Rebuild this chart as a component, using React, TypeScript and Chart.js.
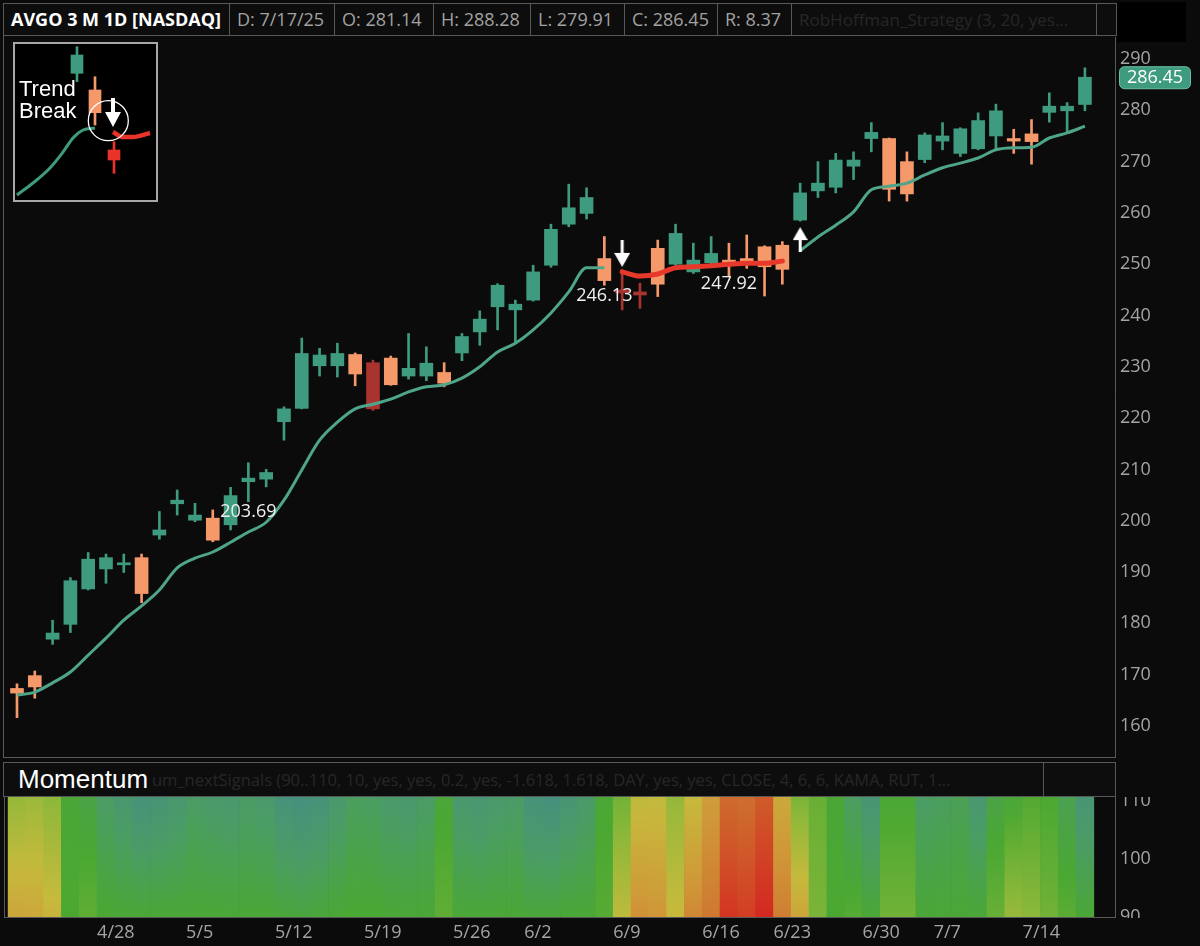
import React, { useEffect, useRef } from 'react';
import { Chart, registerables } from 'chart.js';

Chart.register(...registerables);
Chart.defaults.font.family = '"Open Sans", "DejaVu Sans", sans-serif';

// ---------------- data (AVGO daily, 4/21/25 – 7/17/25) ----------------
const opens = [167.3, 169.8, 176.9, 179.8, 186.7, 190.6, 191.4, 192.8, 197.2, 203.3, 200.1, 200.5, 199.2, 207.6, 208.1, 219.3, 221.9, 230.2, 230.2, 232.4, 230.8, 231.7, 228.2, 228.2, 228.9, 232.7, 236.8, 241.7, 241.1, 243.0, 249.8, 257.8, 259.9, 251.1, 245.0, 244.6, 253.1, 250.0, 248.5, 250.3, 250.8, 251.1, 253.4, 253.7, 258.6, 264.3, 265.0, 269.1, 274.5, 274.5, 270.0, 270.4, 274.0, 271.6, 272.5, 275.0, 274.5, 275.4, 279.6, 279.9, 281.14];
const highs = [168.2, 170.7, 180.6, 188.9, 193.8, 193.5, 193.5, 193.5, 201.8, 206.0, 203.4, 202.1, 206.5, 211.3, 210.0, 222.2, 235.6, 233.6, 234.6, 232.7, 231.3, 232.1, 236.5, 233.9, 230.8, 236.5, 240.9, 246.2, 243.0, 249.8, 257.8, 265.6, 264.9, 255.4, 248.9, 246.3, 254.7, 257.8, 254.1, 255.4, 254.1, 255.7, 253.6, 254.4, 265.8, 270.0, 271.6, 271.9, 277.6, 274.6, 271.9, 275.6, 277.6, 276.6, 279.5, 281.2, 276.3, 278.2, 283.4, 281.5, 288.28];
const lows = [161.6, 165.4, 175.9, 178.2, 186.5, 187.8, 189.9, 184.0, 196.4, 201.1, 199.8, 195.9, 198.2, 203.7, 206.6, 215.7, 221.8, 228.2, 228.0, 226.3, 221.5, 226.4, 227.6, 227.3, 226.1, 231.2, 234.2, 237.2, 234.9, 242.8, 249.4, 257.3, 258.8, 245.9, 241.1, 241.4, 243.7, 249.8, 248.2, 250.1, 247.7, 249.2, 243.8, 246.1, 258.4, 263.0, 263.9, 266.5, 271.9, 262.3, 262.3, 269.8, 272.3, 271.0, 272.3, 272.3, 271.6, 269.5, 277.7, 275.6, 279.91];
const closes = [166.4, 167.6, 178.1, 188.3, 192.5, 192.8, 191.8, 185.8, 198.2, 204.0, 201.1, 196.2, 204.9, 208.3, 209.4, 221.8, 232.6, 232.3, 232.6, 228.6, 221.8, 226.5, 229.7, 230.7, 226.8, 235.9, 239.3, 245.9, 242.2, 248.5, 256.8, 261.0, 263.0, 246.8, 244.4, 244.0, 246.1, 256.0, 250.8, 252.1, 250.2, 250.5, 249.5, 249.0, 263.9, 265.8, 270.3, 270.3, 275.7, 264.6, 263.7, 275.2, 275.0, 276.4, 278.0, 279.9, 274.0, 273.9, 280.8, 280.8, 286.45];
// bars flagged by the strategy (drawn dark red)
const retraceBars = [20, 34, 35];

// trend line (green) and trend-break line (red)
const trendLine = [166.0, 166.6, 168.4, 170.5, 173.8, 177.1, 180.6, 183.4, 186.5, 190.8, 192.7, 193.9, 195.8, 197.8, 199.7, 204.0, 209.9, 215.7, 219.2, 221.8, 222.7, 223.7, 225.1, 226.1, 226.5, 227.8, 230.0, 232.9, 234.6, 237.2, 240.5, 244.6, 249.3, 249.3, null, null, null, null, null, null, null, null, null, null, 252.6, 255.3, 257.6, 260.2, 264.5, 265.2, 265.8, 267.4, 268.8, 269.7, 270.7, 272.3, 272.7, 272.8, 274.6, 275.6, 276.9];
const breakLine = [null, null, null, null, null, null, null, null, null, null, null, null, null, null, null, null, null, null, null, null, null, null, null, null, null, null, null, null, null, null, null, null, null, null, 248.5, 247.7, 248.1, 249.3, 249.5, 249.7, 250.0, 250.2, 250.2, 250.6, null, null, null, null, null, null, null, null, null, null, null, null, null, null, null, null, null];

const downSignalIdx = [34];
const downSignalVal = [252.1];
const upSignalIdx = [44];
const upSignalVal = [254.8];

const noteIdx = [13, 33, 40];
const noteVal = [201.7, 243.8, 246.1];
const noteText = ['203.69', '246.13', '247.92'];

const priceTicks = [160, 170, 180, 190, 200, 210, 220, 230, 240, 250, 260, 270, 280, 290];
const dateTickIdx = [5, 10, 15, 20, 25, 29, 34, 39, 43, 48, 52, 57];
const dateTickLabels = ['4/28', '5/5', '5/12', '5/19', '5/26', '6/2', '6/9', '6/16', '6/23', '6/30', '7/7', '7/14'];

// momentum heat (0 = weakest / red ... 1 = strongest / teal), upper and lower edge of each column
const momTop = [0.58, 0.56, 0.60, 0.76, 0.80, 0.88, 0.93, 0.98, 0.96, 0.93, 0.88, 0.90, 0.92, 0.89, 0.91, 0.98, 1.00, 0.98, 0.92, 0.86, 0.87, 0.90, 0.92, 0.88, 0.77, 0.92, 0.94, 0.91, 0.89, 0.98, 1.00, 0.95, 0.90, 0.76, 0.66, 0.47, 0.46, 0.58, 0.45, 0.33, 0.16, 0.17, 0.12, 0.38, 0.64, 0.68, 0.76, 0.87, 0.95, 0.76, 0.76, 0.88, 0.86, 0.84, 0.93, 0.80, 0.77, 0.73, 0.75, 0.83, 0.95];
const momBottom = [0.36, 0.37, 0.42, 0.75, 0.70, 0.75, 0.76, 0.76, 0.76, 0.76, 0.76, 0.76, 0.76, 0.76, 0.76, 0.77, 0.78, 0.77, 0.76, 0.75, 0.75, 0.76, 0.76, 0.76, 0.70, 0.76, 0.76, 0.76, 0.76, 0.77, 0.77, 0.76, 0.76, 0.72, 0.47, 0.28, 0.30, 0.44, 0.25, 0.20, 0.03, 0.05, 0.00, 0.22, 0.36, 0.64, 0.75, 0.72, 0.76, 0.66, 0.66, 0.76, 0.76, 0.76, 0.76, 0.68, 0.57, 0.60, 0.66, 0.71, 0.76];
const momTicks = [90, 100, 110];

// inset "Trend Break" legend sketch (local units)
const insetX = [64, 82, 101];
const insetOpen = [128.7, 112, 52];
const insetClose = [147, 89.3, 42];
const insetHigh = [155.3, 125.3, 60.3];
const insetLow = [120.3, 77, 28.7];
const insetTrendX = [4, 20, 37, 50, 60, 70, 82];
const insetTrendY = [7, 19, 34, 50, 64, 72, 74];
const insetBreakX = [100, 110, 120, 137];
const insetBreakY = [70, 65, 65, 69];

// ---------------- styles ----------------
const BG = '#0b0b0b';
const LINE = '#585858';
const AXIS_TEXT = '#a4a4a4';
const DIM_TEXT = '#272727';
const UP = '#3f9b7f';
const DOWN = '#f6996a';
const RETRACE = '#a8332f';
const TREND = '#4fa589';
const BREAK = '#e6392b';
const INSET_RED = '#e8332a';

const X_MIN = -0.674;
const X_MAX = 61.69;
const Y_MIN = 153.94;
const Y_MAX = 294.29;
const MOM_MIN = 90;
const MOM_MAX = 110.7;

const PALETTE: [number, number[]][] = [
  [0.0, [212, 40, 32]],
  [0.15, [206, 104, 44]],
  [0.3, [208, 150, 56]],
  [0.45, [198, 186, 60]],
  [0.6, [140, 184, 58]],
  [0.75, [74, 168, 50]],
  [0.88, [74, 156, 102]],
  [1.0, [70, 144, 126]],
];
function heatColor(m: number) {
  const v = Math.max(0, Math.min(1, m));
  for (let k = 1; k < PALETTE.length; k++) {
    const [p1, c1] = PALETTE[k];
    const [p0, c0] = PALETTE[k - 1];
    if (v <= p1) {
      const t = (v - p0) / (p1 - p0);
      const c = c0.map((a, j) => Math.round(a + (c1[j] - a) * t));
      return `rgb(${c[0]},${c[1]},${c[2]})`;
    }
  }
  const c = PALETTE[PALETTE.length - 1][1];
  return `rgb(${c[0]},${c[1]},${c[2]})`;
}

function makeArrow(up: boolean, w: number, h: number, head: number, shaft: number) {
  const c = document.createElement('canvas');
  c.width = w;
  c.height = h;
  const g = c.getContext('2d')!;
  g.fillStyle = '#ffffff';
  if (up) {
    g.translate(0, h);
    g.scale(1, -1);
  }
  g.fillRect((w - shaft) / 2, 0, shaft, h - head + 1);
  g.beginPath();
  g.moveTo(0, h - head);
  g.lineTo(w, h - head);
  g.lineTo(w / 2, h);
  g.closePath();
  g.fill();
  return c;
}

const zeroPad = (s: any) => {
  s.paddingLeft = 0;
  s.paddingRight = 0;
  s.paddingTop = 0;
  s.paddingBottom = 0;
};

const candleColor = (i: number) =>
  closes[i] >= opens[i] ? UP : retraceBars.includes(i) ? RETRACE : DOWN;

export default function App() {
  const mainRef = useRef<HTMLCanvasElement>(null);
  const momRef = useRef<HTMLCanvasElement>(null);
  const insetRef = useRef<HTMLCanvasElement>(null);

  useEffect(() => {
    document.body.style.margin = '0';
    document.body.style.background = BG;
    const idx = closes.map((_, i) => i);

    const mainOverlay = {
      id: 'mainOverlay',
      afterDatasetsDraw(chart: any) {
        const { ctx, scales } = chart;
        const x = scales.x;
        const y = scales.y;
        ctx.save();
        ctx.font = '18px "Open Sans"';
        ctx.fillStyle = '#f0f0f0';
        ctx.textAlign = 'center';
        ctx.textBaseline = 'middle';
        noteText.forEach((t, k) => {
          ctx.fillText(t, x.getPixelForValue(noteIdx[k]), y.getPixelForValue(noteVal[k]));
        });
        const last = closes[closes.length - 1];
        const py = y.getPixelForValue(last);
        const left = chart.chartArea.right + 4;
        const w = 71;
        const h = 22;
        ctx.beginPath();
        (ctx as any).roundRect(left + 0.5, py - h / 2 + 0.5, w, h, 5);
        ctx.fillStyle = UP;
        ctx.fill();
        ctx.strokeStyle = '#6cbfa2';
        ctx.lineWidth = 1;
        ctx.stroke();
        ctx.fillStyle = '#ffffff';
        ctx.fillText(last.toFixed(2), left + w / 2 + 0.5, py + 1);
        ctx.restore();
      },
    };

    const main = new Chart(mainRef.current!, {
      type: 'bar',
      data: {
        datasets: [
          {
            type: 'scatter',
            data: downSignalIdx.map((i, k) => ({ x: i, y: downSignalVal[k] })),
            pointStyle: makeArrow(false, 16, 27, 14, 3) as any,
            pointRadius: 6,
            order: 0,
          },
          {
            type: 'scatter',
            data: upSignalIdx.map((i, k) => ({ x: i, y: upSignalVal[k] })),
            pointStyle: makeArrow(true, 15, 25, 13, 3) as any,
            pointRadius: 6,
            order: 0,
          },
          {
            type: 'line',
            data: idx.map((i) => ({ x: i, y: trendLine[i] })),
            borderColor: TREND,
            borderWidth: 3,
            pointRadius: 0,
            cubicInterpolationMode: 'monotone',
            spanGaps: false,
            order: 1,
          },
          {
            type: 'line',
            data: idx.map((i) => ({ x: i, y: breakLine[i] })),
            borderColor: BREAK,
            borderWidth: 5,
            borderCapStyle: 'round',
            pointRadius: 0,
            cubicInterpolationMode: 'monotone',
            spanGaps: false,
            order: 1,
          },
          {
            type: 'bar',
            data: idx.map((i) => ({ x: i, y: [lows[i], highs[i]] })),
            backgroundColor: idx.map(candleColor),
            barThickness: 2,
            grouped: false,
            order: 3,
          },
          {
            type: 'bar',
            data: idx.map((i) => ({ x: i, y: [opens[i], closes[i]] })),
            backgroundColor: idx.map(candleColor),
            barThickness: 13,
            minBarLength: 2,
            grouped: false,
            order: 2,
          },
        ] as any,
      },
      options: {
        animation: false,
        responsive: false,
        events: [],
        layout: { autoPadding: false, padding: { left: 5, right: 0, top: 0, bottom: 0 } } as any,
        plugins: { legend: { display: false }, tooltip: { enabled: false } },
        scales: {
          x: { type: 'linear', min: X_MIN, max: X_MAX, display: false, offset: false, afterFit: zeroPad },
          y: {
            position: 'right',
            min: Y_MIN,
            max: Y_MAX,
            grid: { display: false, drawTicks: false },
            border: { display: true, color: LINE },
            afterBuildTicks: (s: any) => {
              s.ticks = priceTicks.map((v) => ({ value: v }));
            },
            afterFit: (s: any) => {
              s.width = 85;
              zeroPad(s);
            },
            ticks: { autoSkip: false, color: AXIS_TEXT, font: { size: 18 }, padding: 5 },
          },
        } as any,
      },
      plugins: [mainOverlay],
    });

    const momClip = {
      id: 'momClip',
      afterDraw(chart: any) {
        const { ctx, chartArea } = chart;
        ctx.save();
        ctx.fillStyle = BG;
        ctx.fillRect(chartArea.right + 1, chartArea.bottom + 1, chart.width - chartArea.right, 40);
        ctx.restore();
      },
    };

    const mom = new Chart(momRef.current!, {
      type: 'bar',
      data: {
        datasets: [
          {
            data: idx.map((i) => ({ x: i, y: [MOM_MIN, MOM_MAX] })),
            backgroundColor: (c: any) => {
              const area = c.chart.chartArea;
              const i = c.dataIndex;
              if (!area || i == null) return '#000';
              const g = c.chart.ctx.createLinearGradient(0, area.top, 0, area.bottom);
              for (let k = 0; k <= 6; k++) {
                const t = k / 6;
                g.addColorStop(t, heatColor(momTop[i] + (momBottom[i] - momTop[i]) * t));
              }
              return g;
            },
            barPercentage: 1,
            categoryPercentage: 1,
            grouped: false,
            borderWidth: 0,
          },
        ] as any,
      },
      options: {
        animation: false,
        responsive: false,
        events: [],
        layout: { autoPadding: false, padding: { left: 5, right: 0, top: 0, bottom: 0 } } as any,
        plugins: { legend: { display: false }, tooltip: { enabled: false } },
        scales: {
          x: {
            type: 'linear',
            min: X_MIN,
            max: X_MAX,
            offset: false,
            position: 'bottom',
            grid: { display: false, drawTicks: false },
            border: { display: true, color: LINE },
            afterBuildTicks: (s: any) => {
              s.ticks = dateTickIdx.map((i) => ({ value: i - 0.5 }));
            },
            afterFit: (s: any) => {
              s.height = 29;
              zeroPad(s);
            },
            ticks: {
              autoSkip: false,
              maxRotation: 0,
              align: 'start',
              color: AXIS_TEXT,
              font: { size: 18 },
              padding: 5,
              callback: (_v: any, k: number) => dateTickLabels[k],
            },
          },
          y: {
            position: 'right',
            min: MOM_MIN,
            max: MOM_MAX,
            grid: { display: false, drawTicks: false },
            border: { display: true, color: LINE },
            afterBuildTicks: (s: any) => {
              s.ticks = momTicks.map((v) => ({ value: v }));
            },
            afterFit: (s: any) => {
              s.width = 85;
              zeroPad(s);
            },
            ticks: { autoSkip: false, color: AXIS_TEXT, font: { size: 18 }, padding: 5 },
          },
        } as any,
      },
      plugins: [momClip],
    });

    const inset = new Chart(insetRef.current!, {
      type: 'bar',
      data: {
        datasets: [
          {
            type: 'scatter',
            data: [{ x: 100, y: 89.5 }],
            pointStyle: makeArrow(false, 16, 29, 15, 4) as any,
            pointRadius: 6,
            order: 0,
          },
          {
            type: 'scatter',
            data: [{ x: 95.3, y: 81.3 }],
            pointRadius: 20,
            pointBorderColor: '#ffffff',
            pointBackgroundColor: 'rgba(0,0,0,0)',
            pointBorderWidth: 1.3,
            order: 1,
          },
          {
            type: 'line',
            data: insetTrendX.map((x, k) => ({ x, y: insetTrendY[k] })),
            borderColor: UP,
            borderWidth: 3,
            pointRadius: 0,
            cubicInterpolationMode: 'monotone',
            order: 2,
          },
          {
            type: 'line',
            data: insetBreakX.map((x, k) => ({ x, y: insetBreakY[k] })),
            borderColor: INSET_RED,
            borderWidth: 4.5,
            pointRadius: 0,
            cubicInterpolationMode: 'monotone',
            order: 2,
          },
          {
            type: 'bar',
            data: insetX.map((x, k) => ({ x, y: [insetLow[k], insetHigh[k]] })),
            backgroundColor: [UP, DOWN, INSET_RED],
            barThickness: 2,
            grouped: false,
            order: 4,
          },
          {
            type: 'bar',
            data: insetX.map((x, k) => ({ x, y: [insetOpen[k], insetClose[k]] })),
            backgroundColor: [UP, DOWN, INSET_RED],
            barThickness: 12,
            grouped: false,
            order: 3,
          },
        ] as any,
      },
      options: {
        animation: false,
        responsive: false,
        events: [],
        layout: { autoPadding: false, padding: 0 } as any,
        plugins: { legend: { display: false }, tooltip: { enabled: false } },
        scales: {
          x: { type: 'linear', min: 0, max: 145, display: false, offset: false, afterFit: zeroPad },
          y: { min: 0, max: 160, display: false, afterFit: zeroPad },
        } as any,
      },
    });

    return () => {
      main.destroy();
      mom.destroy();
      inset.destroy();
    };
  }, []);

  const headBoxes = [
    { t: 'AVGO 3 M 1D [NASDAQ]', l: 3, r: 229, kind: 'title' },
    { t: 'D: 7/17/25', l: 229, r: 334, kind: 'val' },
    { t: 'O: 281.14', l: 334, r: 433, kind: 'val' },
    { t: 'H: 288.28', l: 433, r: 530, kind: 'val' },
    { t: 'L: 279.91', l: 530, r: 624, kind: 'val' },
    { t: 'C: 286.45', l: 624, r: 717, kind: 'val' },
    { t: 'R: 8.37', l: 717, r: 791, kind: 'val' },
    { t: 'RobHoffman_Strategy (3, 20, yes...', l: 791, r: 1096, kind: 'dim' },
    { t: '', l: 1096, r: 1116, kind: 'dim' },
  ];

  const abs = (l: number, t: number, w: number, h: number): React.CSSProperties => ({
    position: 'absolute',
    left: l,
    top: t,
    width: w,
    height: h,
    boxSizing: 'border-box',
  });

  return (
    <div
      style={{
        position: 'fixed',
        left: 0,
        top: 0,
        width: 1200,
        height: 946,
        background: BG,
        overflow: 'hidden',
        fontFamily: '"Open Sans", sans-serif',
      }}
    >
      {headBoxes.map((b, k) => (
        <div
          key={k}
          style={{
            ...abs(b.l, 3, b.r - b.l + 1, 33),
            border: `1px solid ${LINE}`,
            background: '#0d0d0d',
            color: b.kind === 'title' ? '#ffffff' : b.kind === 'dim' ? DIM_TEXT : '#a2a2a2',
            fontWeight: b.kind === 'title' ? 700 : 400,
            fontSize: b.kind === 'dim' ? 17 : 18,
            lineHeight: '31px',
            paddingLeft: 7,
            whiteSpace: 'nowrap',
            overflow: 'hidden',
          }}
        >
          {b.t}
        </div>
      ))}
      <div style={{ ...abs(1117, 2, 69, 40), background: '#000' }} />

      <canvas ref={mainRef} width={1200} height={720} style={{ position: 'absolute', left: 0, top: 37 }} />
      <div style={{ ...abs(3, 35, 1, 722), background: LINE }} />
      <div style={{ ...abs(3, 757, 1113, 1), background: LINE }} />

      <div style={{ ...abs(13, 42, 145, 160), background: '#000' }}>
        <canvas ref={insetRef} width={145} height={160} style={{ position: 'absolute', left: 0, top: 0 }} />
        <div
          style={{
            position: 'absolute',
            left: 6,
            top: 36,
            color: '#ffffff',
            fontFamily: '"Liberation Sans", Arial, sans-serif',
            fontSize: 22,
            lineHeight: '22px',
          }}
        >
          Trend
          <br />
          Break
        </div>
        <div style={{ ...abs(0, 0, 145, 160), border: '2px solid #a8a8a8' }} />
      </div>

      <div style={{ ...abs(3, 762, 1041, 35), border: `1px solid ${LINE}`, background: '#0d0d0d', overflow: 'hidden' }}>
        <div
          style={{
            position: 'absolute',
            left: 148,
            top: 0,
            color: DIM_TEXT,
            fontSize: 16.5,
            lineHeight: '33px',
            whiteSpace: 'nowrap',
          }}
        >
          um_nextSignals (90..110, 10, yes, yes, 0.2, yes, -1.618, 1.618, DAY, yes, yes, CLOSE, 4, 6, 6, KAMA, RUT, 1...
        </div>
        <div
          style={{
            position: 'absolute',
            left: 14,
            top: 0,
            color: '#ffffff',
            fontFamily: '"Liberation Sans", Arial, sans-serif',
            fontSize: 26,
            lineHeight: '33px',
          }}
        >
          Momentum
        </div>
      </div>
      <div style={{ ...abs(1043, 762, 73, 35), border: `1px solid ${LINE}`, background: '#0d0d0d' }} />

      <canvas ref={momRef} width={1200} height={149} style={{ position: 'absolute', left: 0, top: 797 }} />
      <div style={{ ...abs(4, 796, 1, 122), background: LINE }} />
    </div>
  );
}
